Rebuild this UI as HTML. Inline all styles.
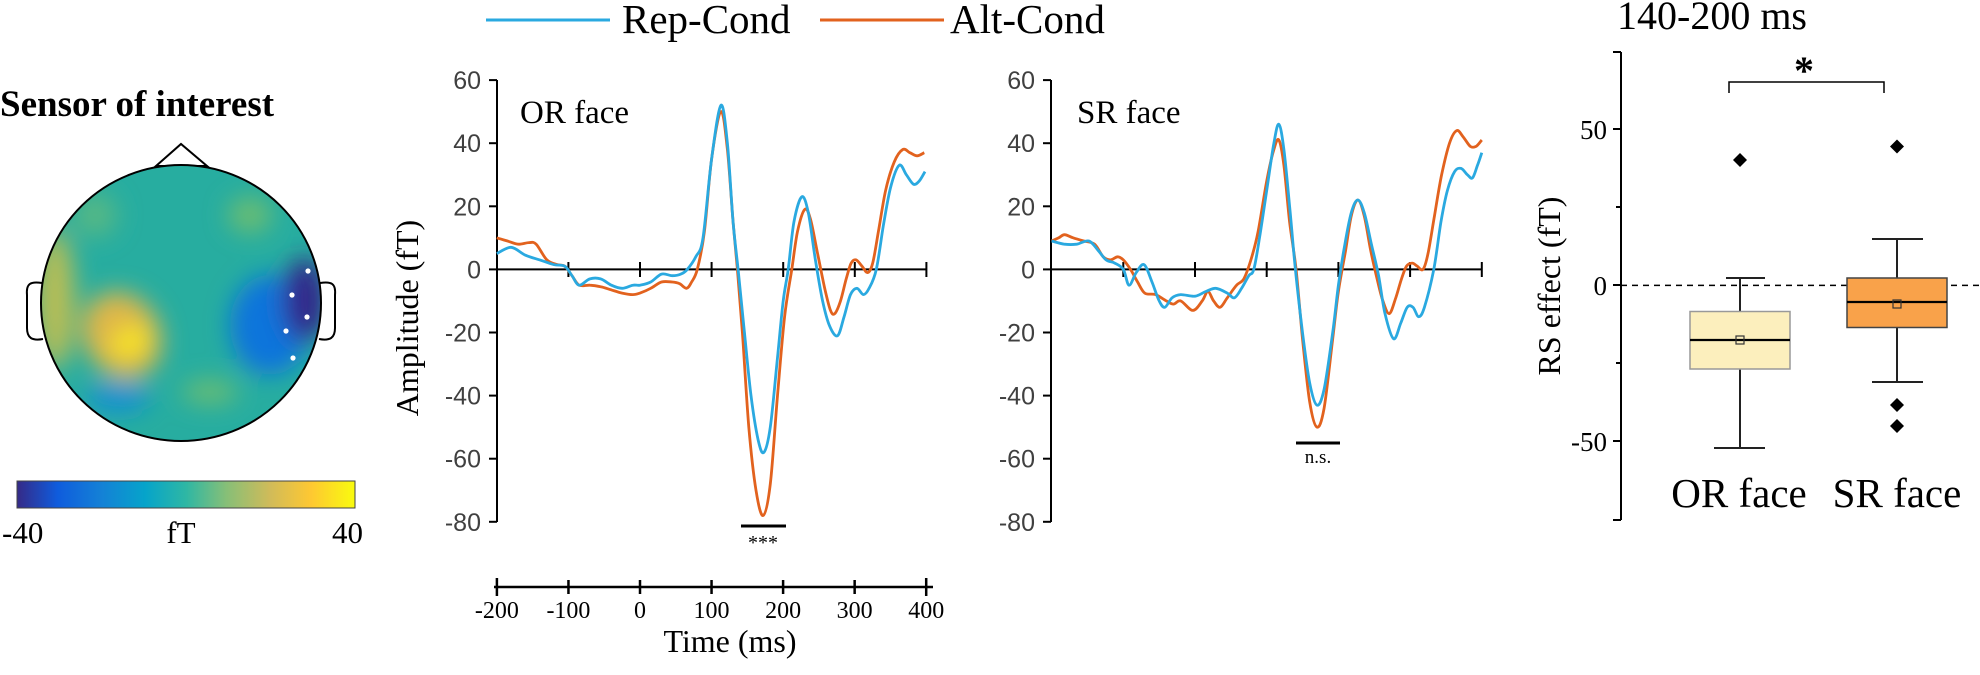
<!DOCTYPE html>
<html><head><meta charset="utf-8"><style>
html,body{margin:0;padding:0;background:#fff;}
svg{display:block}
.s{font-family:"Liberation Serif",serif;fill:#000}
.g{font-family:"Liberation Sans",sans-serif;fill:#404040;font-size:25px}
</style></head><body>
<svg id="svg" width="1980" height="675" viewBox="0 0 1980 675" xmlns="http://www.w3.org/2000/svg">
<defs>
<linearGradient id="cb" x1="0" x2="1" y1="0" y2="0">
<stop offset="0" stop-color="#352a87"/><stop offset="0.12" stop-color="#0f5cdd"/>
<stop offset="0.25" stop-color="#1481d6"/><stop offset="0.38" stop-color="#06a4ca"/>
<stop offset="0.5" stop-color="#2eb7a4"/><stop offset="0.62" stop-color="#87bf77"/>
<stop offset="0.75" stop-color="#d1bb59"/><stop offset="0.87" stop-color="#fec832"/>
<stop offset="1" stop-color="#f9fb0e"/></linearGradient>
<clipPath id="hc"><ellipse cx="181" cy="303" rx="140" ry="138"/></clipPath>
<filter id="bl" x="-50%" y="-50%" width="200%" height="200%"><feGaussianBlur stdDeviation="12"/></filter>
</defs>
<text class="s" x="0" y="116" font-size="37" font-weight="bold">Sensor of interest</text>
<polygon points="156,166 181,144 207,166" fill="none" stroke="#000" stroke-width="2"/>
<path d="M42,283 C30,281 26,284 27,295 L27,328 C27,338 32,341 43,339" fill="none" stroke="#000" stroke-width="2"/>
<path d="M320,283 C332,281 336,284 335,295 L335,328 C335,338 330,341 319,339" fill="none" stroke="#000" stroke-width="2"/>
<g clip-path="url(#hc)">
<rect x="30" y="150" width="310" height="310" fill="#27ada0"/>
<g filter="url(#bl)">
<ellipse cx="55" cy="300" rx="20" ry="70" fill="#b8bd55"/>
<ellipse cx="250" cy="215" rx="22" ry="18" fill="#6bbd72"/>
<ellipse cx="210" cy="392" rx="28" ry="12" fill="#6bbd72"/>
<ellipse cx="95" cy="215" rx="22" ry="22" fill="#55b885"/>
<ellipse cx="122" cy="335" rx="38" ry="45" fill="#deb64a" transform="rotate(-30 122 335)"/>
<ellipse cx="130" cy="342" rx="20" ry="15" fill="#f7e41e" transform="rotate(-30 130 342)"/>
<ellipse cx="118" cy="398" rx="32" ry="15" fill="#1490d2"/>
<ellipse cx="270" cy="325" rx="40" ry="50" fill="#1175dc"/>
<ellipse cx="305" cy="300" rx="22" ry="42" fill="#33288a"/>
</g>
</g>
<ellipse cx="181" cy="303" rx="140" ry="138" fill="none" stroke="#000" stroke-width="2"/>
<g fill="#fff"><circle cx="308" cy="271" r="2.6"/><circle cx="292" cy="295" r="2.6"/><circle cx="307" cy="317" r="2.6"/><circle cx="286" cy="331" r="2.6"/><circle cx="293" cy="358" r="2.6"/></g>
<rect x="17" y="481" width="338" height="27" fill="url(#cb)" stroke="#444" stroke-width="1"/>
<text class="s" x="2" y="543" font-size="31">-40</text>
<text class="s" x="181" y="543" font-size="31" text-anchor="middle">fT</text>
<text class="s" x="332" y="543" font-size="31">40</text>
<line x1="486" y1="20" x2="610" y2="20" stroke="#2aa9e0" stroke-width="3"/>
<text class="s" x="622" y="33" font-size="41">Rep-Cond</text>
<line x1="820" y1="20" x2="944" y2="20" stroke="#e2621e" stroke-width="3"/>
<text class="s" x="950" y="33" font-size="41">Alt-Cond</text>
<g id="c1"></g>
<g id="c2"></g>
<text class="s" x="520" y="123" font-size="33">OR face</text>
<text class="s" x="1077" y="123" font-size="33">SR face</text>
<text class="s" font-size="32" transform="translate(418,318) rotate(-90)" text-anchor="middle">Amplitude (fT)</text>
<line x1="741" y1="526" x2="786" y2="526" stroke="#000" stroke-width="3"/>
<text class="s" x="763" y="549" font-size="20" text-anchor="middle">***</text>
<line x1="1296" y1="443" x2="1340" y2="443" stroke="#000" stroke-width="3"/>
<text class="s" x="1318" y="463" font-size="19" text-anchor="middle">n.s.</text>
<line x1="494" y1="587" x2="933" y2="587" stroke="#000" stroke-width="2.5"/>
<g id="xt"></g>
<text class="s" x="730" y="652" font-size="32" text-anchor="middle">Time (ms)</text>
<text class="s" x="1617" y="29" font-size="40">140-200 ms</text>
<line x1="1621" y1="52" x2="1621" y2="520" stroke="#000" stroke-width="2"/>
<g stroke="#000" stroke-width="2">
<line x1="1613" y1="52" x2="1621" y2="52"/><line x1="1613" y1="129" x2="1621" y2="129"/><line x1="1616" y1="207" x2="1621" y2="207"/><line x1="1613" y1="285" x2="1621" y2="285"/><line x1="1616" y1="363" x2="1621" y2="363"/><line x1="1613" y1="441" x2="1621" y2="441"/><line x1="1613" y1="520" x2="1621" y2="520"/>
</g>
<text class="s" x="1607" y="139" font-size="27" text-anchor="end">50</text>
<text class="s" x="1607" y="295" font-size="27" text-anchor="end">0</text>
<text class="s" x="1607" y="451" font-size="27" text-anchor="end">-50</text>
<text class="s" font-size="32" transform="translate(1560,286) rotate(-90)" text-anchor="middle">RS effect (fT)</text>
<line x1="1621" y1="285.4" x2="1980" y2="285.4" stroke="#000" stroke-width="1.5" stroke-dasharray="6,5"/>
<g stroke="#222" stroke-width="2" fill="none">
<line x1="1740" y1="278" x2="1740" y2="311"/><line x1="1740" y1="369" x2="1740" y2="448"/>
<line x1="1726" y1="278" x2="1765" y2="278"/><line x1="1714" y1="448" x2="1765" y2="448"/>
</g>
<rect x="1690" y="311.5" width="100" height="57.5" fill="#fcefbd" stroke="#999" stroke-width="1.5"/>
<line x1="1690" y1="340" x2="1790" y2="340" stroke="#000" stroke-width="2.2"/>
<rect x="1736" y="336" width="8" height="8" fill="none" stroke="#333" stroke-width="1.2"/>
<g stroke="#222" stroke-width="2" fill="none">
<line x1="1897" y1="239" x2="1897" y2="278"/><line x1="1897" y1="327" x2="1897" y2="382"/>
<line x1="1872" y1="239" x2="1923" y2="239"/><line x1="1872" y1="382" x2="1923" y2="382"/>
</g>
<rect x="1847" y="278" width="100" height="49.5" fill="#f9a24a" stroke="#444" stroke-width="1.5"/>
<line x1="1847" y1="302" x2="1947" y2="302" stroke="#000" stroke-width="2.2"/>
<rect x="1893" y="300" width="8" height="8" fill="none" stroke="#333" stroke-width="1.2"/>
<g fill="#000">
<polygon points="1740,153 1747,160 1740,167 1733,160"/>
<polygon points="1897,139.5 1904,146.5 1897,153.5 1890,146.5"/>
<polygon points="1897,398 1904,405 1897,412 1890,405"/>
<polygon points="1897,419 1904,426 1897,433 1890,426"/>
</g>
<polyline points="1729,93 1729,82 1884,82 1884,93" fill="none" stroke="#000" stroke-width="1.5"/>
<text class="s" x="1804" y="84" font-size="40" font-weight="bold" text-anchor="middle">*</text>
<text class="s" x="1739" y="507" font-size="41" text-anchor="middle">OR face</text>
<text class="s" x="1897" y="507" font-size="41" text-anchor="middle">SR face</text>
</svg>
<script>
const NS="http://www.w3.org/2000/svg";
function el(p,t,a){const e=document.createElementNS(NS,t);for(const k in a)e.setAttribute(k,a[k]);p.appendChild(e);return e;}
function cr(pts){let d="M"+pts[0][0].toFixed(1)+","+pts[0][1].toFixed(1);
for(let i=0;i<pts.length-1;i++){const p0=pts[i-1]||pts[i],p1=pts[i],p2=pts[i+1],p3=pts[i+2]||p2;
const c1=[p1[0]+(p2[0]-p0[0])/6,p1[1]+(p2[1]-p0[1])/6],c2=[p2[0]-(p3[0]-p1[0])/6,p2[1]-(p3[1]-p1[1])/6];
d+=" C"+c1[0].toFixed(1)+","+c1[1].toFixed(1)+" "+c2[0].toFixed(1)+","+c2[1].toFixed(1)+" "+p2[0].toFixed(1)+","+p2[1].toFixed(1);}return d;}
function chart(g,x0,sx,ax,labelsX,blue,orange){
 const Y=a=>269.4-a*3.155, X=t=>x0+t*sx;
 el(g,"line",{x1:ax,y1:80,x2:ax,y2:522,stroke:"#000","stroke-width":2});
 for(let v=60;v>=-80;v-=20){const y=Y(v);el(g,"line",{x1:ax-8,y1:y,x2:ax,y2:y,stroke:"#000","stroke-width":2});
  const t=el(g,"text",{x:labelsX,y:y+9,"text-anchor":"end",class:"g"});t.textContent=v;}
 el(g,"line",{x1:ax,y1:269.4,x2:X(400),y2:269.4,stroke:"#000","stroke-width":2});
 for(let t=-100;t<=400;t+=100){el(g,"line",{x1:X(t),y1:262,x2:X(t),y2:277,stroke:"#000","stroke-width":2});}
 el(g,"path",{d:cr(orange.map(p=>[X(p[0]),Y(p[1])])),fill:"none",stroke:"#e2621e","stroke-width":2.8});
 el(g,"path",{d:cr(blue.map(p=>[X(p[0]),Y(p[1])])),fill:"none",stroke:"#2aa9e0","stroke-width":2.8});
}
const b1=[[-200,5],[-180,7],[-160,4.5],[-140,3],[-120,1.5],[-105,1],[-95,-2],[-85,-5],[-70,-3],[-55,-3],[-40,-5],[-25,-6],[-10,-5],[0,-5],[15,-4],[30,-1.5],[45,-2],[57,-1.5],[66,0],[78,4],[88,10],[100,35],[113,52],[122,40],[130,15],[137,0],[145,-18],[155,-40],[165,-54],[173,-58],[182,-50],[192,-28],[200,-10],[207,0],[215,15],[226,23],[235,18],[245,3],[255,-10],[265,-18],[276,-21],[285,-15],[294,-8],[303,-6],[312,-8],[320,-6],[330,0],[340,14],[350,26],[362,33],[372,30],[382,27],[390,28],[398,31]];
const o1=[[-200,10],[-185,9],[-170,8],[-155,8.5],[-145,8],[-130,3],[-115,1.5],[-105,1],[-95,-2],[-85,-5],[-70,-5],[-55,-5.5],[-40,-6.5],[-25,-7.5],[-10,-8],[0,-7.5],[15,-6],[30,-4],[45,-4],[55,-4.5],[65,-6],[72,-4],[80,0],[90,12],[100,35],[113,50],[122,38],[130,15],[136,0],[143,-20],[152,-50],[162,-70],[172,-78],[182,-68],[192,-40],[202,-15],[212,0],[220,12],[230,19],[238,16],[248,5],[258,-6],[266,-13],[272,-14],[280,-10],[288,-3],[295,2],[302,3],[310,1],[318,-1],[325,2],[333,12],[343,25],[355,34],[367,38],[377,37],[387,36],[397,37]];
const b2=[[-200,9],[-182,8],[-165,8],[-148,9],[-135,6],[-124,3],[-112,2],[-100,0],[-92,-5],[-82,-1],[-71,1.5],[-60,-4],[-50,-10],[-42,-12],[-32,-9],[-20,-8],[0,-8.5],[15,-7],[29,-6],[45,-7.5],[55,-9],[65,-6],[75,-2],[82,0],[90,10],[100,25],[110,40],[117,46],[124,38],[132,20],[140,0],[150,-20],[160,-36],[170,-43],[180,-38],[192,-20],[200,-5],[209,8],[218,18],[227,22],[236,18],[246,8],[256,-2],[265,-14],[277,-22],[287,-17],[296,-12],[304,-12],[312,-15],[320,-12],[333,0],[343,15],[352,25],[362,31],[371,32],[380,30],[387,29],[394,33],[400,37]];
const o2=[[-200,9],[-190,10],[-182,11],[-170,10],[-155,9],[-140,8],[-128,4],[-118,3],[-108,4],[-100,3],[-90,0],[-80,-4],[-70,-7.5],[-55,-8],[-40,-10],[-30,-11],[-20,-10],[-3,-13],[10,-10],[18,-7],[26,-10],[35,-12],[45,-9],[58,-5],[68,-3],[78,3],[88,12],[100,28],[110,38],[117,41],[124,33],[132,15],[141,0],[150,-22],[160,-42],[170,-50],[180,-44],[192,-22],[200,-7],[210,6],[218,17],[227,22],[236,17],[245,6],[254,-3],[262,-10],[271,-14],[280,-9],[288,-3],[295,1],[303,2],[310,1],[318,0],[325,5],[334,17],[344,30],[355,40],[365,44],[374,42],[384,39],[392,39],[400,41]];
chart(document.getElementById("c1"),640,0.716,497,481,b1,o1);
chart(document.getElementById("c2"),1195,0.717,1051,1035,b2,o2);
const xt=document.getElementById("xt");
for(let t=-200;t<=400;t+=100){const x=640+t*0.7155;
 el(xt,"line",{x1:x,y1:(t==-200||t==400)?578:580,x2:x,y2:(t==-200||t==400)?596:594,stroke:"#000","stroke-width":2.5});
 const tx=el(xt,"text",{x:x,y:618,"text-anchor":"middle",class:"s","font-size":24});tx.textContent=t;}
</script>
</body></html>
